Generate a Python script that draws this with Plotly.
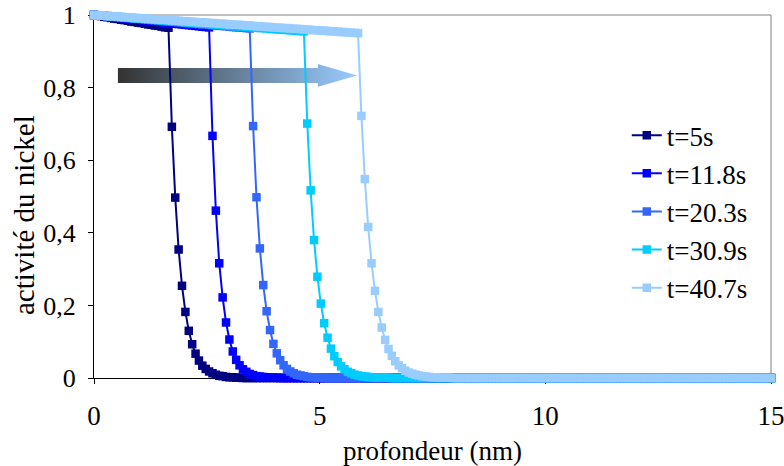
import plotly.graph_objects as go

# depth grid (nm)
depth = [
    0, 0.075, 0.15, 0.225, 0.3, 0.375, 0.45, 0.525,
    0.6, 0.675, 0.75, 0.825, 0.9, 0.975, 1.05, 1.125,
    1.2, 1.275, 1.35, 1.425, 1.5, 1.575, 1.65, 1.725,
    1.8, 1.875, 1.95, 2.025, 2.1, 2.175, 2.25, 2.325,
    2.4, 2.475, 2.55, 2.625, 2.7, 2.775, 2.85, 2.925,
    3.0, 3.075, 3.15, 3.225, 3.3, 3.375, 3.45, 3.525,
    3.6, 3.675, 3.75, 3.825, 3.9, 3.975, 4.05, 4.125,
    4.2, 4.275, 4.35, 4.425, 4.5, 4.575, 4.65, 4.725,
    4.8, 4.875, 4.95, 5.025, 5.1, 5.175, 5.25, 5.325,
    5.4, 5.475, 5.55, 5.625, 5.7, 5.775, 5.85, 5.925,
    6.0, 6.075, 6.15, 6.225, 6.3, 6.375, 6.45, 6.525,
    6.6, 6.675, 6.75, 6.825, 6.9, 6.975, 7.05, 7.125,
    7.2, 7.275, 7.35, 7.425, 7.5, 7.575, 7.65, 7.725,
    7.8, 7.875, 7.95, 8.025, 8.1, 8.175, 8.25, 8.325,
    8.4, 8.475, 8.55, 8.625, 8.7, 8.775, 8.85, 8.925,
    9.0, 9.075, 9.15, 9.225, 9.3, 9.375, 9.45, 9.525,
    9.6, 9.675, 9.75, 9.825, 9.9, 9.975, 10.05, 10.125,
    10.2, 10.275, 10.35, 10.425, 10.5, 10.575, 10.65, 10.725,
    10.8, 10.875, 10.95, 11.025, 11.1, 11.175, 11.25, 11.325,
    11.4, 11.475, 11.55, 11.625, 11.7, 11.775, 11.85, 11.925,
    12.0, 12.075, 12.15, 12.225, 12.3, 12.375, 12.45, 12.525,
    12.6, 12.675, 12.75, 12.825, 12.9, 12.975, 13.05, 13.125,
    13.2, 13.275, 13.35, 13.425, 13.5, 13.575, 13.65, 13.725,
    13.8, 13.875, 13.95, 14.025, 14.1, 14.175, 14.25, 14.325,
    14.4, 14.475, 14.55, 14.625, 14.7, 14.775, 14.85, 14.925,
    15.0,
]

act_5s = [
    1.000, 0.998, 0.997, 0.995, 0.994, 0.992, 0.990, 0.989, 0.987, 0.986,
    0.984, 0.982, 0.981, 0.979, 0.978, 0.976, 0.974, 0.973, 0.971, 0.970,
    0.968, 0.966, 0.965,
    0.692, 0.497, 0.354, 0.254, 0.182, 0.130, 0.093, 0.067, 0.048, 0.034,
    0.025, 0.018, 0.013, 0.009, 0.006, 0.005, 0.003, 0.002, 0.002, 0.001,
    0.001,
    0, 0, 0, 0, 0, 0, 0, 0, 0, 0,
    0, 0, 0, 0, 0, 0, 0, 0, 0, 0,
    0, 0, 0, 0, 0, 0, 0, 0, 0, 0,
    0, 0, 0, 0, 0, 0, 0, 0, 0, 0,
    0, 0, 0, 0, 0, 0, 0, 0, 0, 0,
    0, 0, 0, 0, 0, 0, 0, 0, 0, 0,
    0, 0, 0, 0, 0, 0, 0, 0, 0, 0,
    0, 0, 0, 0, 0, 0, 0, 0, 0, 0,
    0, 0, 0, 0, 0, 0, 0, 0, 0, 0,
    0, 0, 0, 0, 0, 0, 0, 0, 0, 0,
    0, 0, 0, 0, 0, 0, 0, 0, 0, 0,
    0, 0, 0, 0, 0, 0, 0, 0, 0, 0,
    0, 0, 0, 0, 0, 0, 0, 0, 0, 0,
    0, 0, 0, 0, 0, 0, 0, 0, 0, 0,
    0, 0, 0, 0, 0, 0, 0, 0, 0, 0,
    0, 0, 0, 0, 0, 0, 0,
]

act_11_8s = [
    1.000, 0.999, 0.998, 0.997, 0.996, 0.995, 0.994, 0.993, 0.992, 0.991,
    0.990, 0.989, 0.988, 0.987, 0.986, 0.985, 0.984, 0.983, 0.982, 0.981,
    0.980, 0.979, 0.978, 0.977, 0.976, 0.975, 0.974, 0.973, 0.972, 0.971,
    0.970, 0.969, 0.968, 0.967, 0.966,
    0.667, 0.461, 0.316, 0.222, 0.153, 0.106, 0.073, 0.050, 0.035, 0.024,
    0.017, 0.011, 0.008, 0.005, 0.004, 0.003, 0.002, 0.001, 0.001, 0.001,
    0, 0, 0, 0, 0, 0, 0, 0, 0, 0,
    0, 0, 0, 0, 0, 0, 0, 0, 0, 0,
    0, 0, 0, 0, 0, 0, 0, 0, 0, 0,
    0, 0, 0, 0, 0, 0, 0, 0, 0, 0,
    0, 0, 0, 0, 0, 0, 0, 0, 0, 0,
    0, 0, 0, 0, 0, 0, 0, 0, 0, 0,
    0, 0, 0, 0, 0, 0, 0, 0, 0, 0,
    0, 0, 0, 0, 0, 0, 0, 0, 0, 0,
    0, 0, 0, 0, 0, 0, 0, 0, 0, 0,
    0, 0, 0, 0, 0, 0, 0, 0, 0, 0,
    0, 0, 0, 0, 0, 0, 0, 0, 0, 0,
    0, 0, 0, 0, 0, 0, 0, 0, 0, 0,
    0, 0, 0, 0, 0, 0, 0, 0, 0, 0,
    0, 0, 0, 0, 0, 0, 0, 0, 0, 0,
    0, 0, 0, 0, 0, 0,
]

act_20_3s = [
    1.000, 0.999, 0.998, 0.998, 0.997, 0.996, 0.995, 0.994, 0.994, 0.993,
    0.992, 0.991, 0.990, 0.990, 0.989, 0.988, 0.987, 0.986, 0.986, 0.985,
    0.984, 0.983, 0.982, 0.982, 0.981, 0.980, 0.979, 0.978, 0.978, 0.977,
    0.976, 0.975, 0.974, 0.974, 0.973, 0.972, 0.971, 0.970, 0.970, 0.969,
    0.968, 0.967, 0.966, 0.966, 0.965, 0.964, 0.963,
    0.694, 0.498, 0.357, 0.256, 0.184, 0.132, 0.094, 0.068, 0.049, 0.035,
    0.025, 0.018, 0.013, 0.009, 0.007, 0.005, 0.003, 0.002, 0.002, 0.001,
    0.001, 0.001,
    0, 0, 0, 0, 0, 0, 0, 0, 0, 0,
    0, 0, 0, 0, 0, 0, 0, 0, 0, 0,
    0, 0, 0, 0, 0, 0, 0, 0, 0, 0,
    0, 0, 0, 0, 0, 0, 0, 0, 0, 0,
    0, 0, 0, 0, 0, 0, 0, 0, 0, 0,
    0, 0, 0, 0, 0, 0, 0, 0, 0, 0,
    0, 0, 0, 0, 0, 0, 0, 0, 0, 0,
    0, 0, 0, 0, 0, 0, 0, 0, 0, 0,
    0, 0, 0, 0, 0, 0, 0, 0, 0, 0,
    0, 0, 0, 0, 0, 0, 0, 0, 0, 0,
    0, 0, 0, 0, 0, 0, 0, 0, 0, 0,
    0, 0, 0, 0, 0, 0, 0, 0, 0, 0,
    0, 0, 0, 0, 0, 0, 0, 0, 0, 0,
    0, 0,
]

act_30_9s = [
    1.000, 0.999, 0.999, 0.998, 0.997, 0.996, 0.996, 0.995, 0.994, 0.993,
    0.993, 0.992, 0.991, 0.990, 0.990, 0.989, 0.988, 0.988, 0.987, 0.986,
    0.985, 0.985, 0.984, 0.983, 0.983, 0.982, 0.981, 0.980, 0.980, 0.979,
    0.978, 0.977, 0.977, 0.976, 0.975, 0.975, 0.974, 0.973, 0.972, 0.972,
    0.971, 0.970, 0.969, 0.969, 0.968, 0.967, 0.967, 0.966, 0.965, 0.964,
    0.964, 0.963, 0.962, 0.961, 0.961, 0.960, 0.959, 0.959, 0.958, 0.957,
    0.956, 0.956, 0.955,
    0.701, 0.517, 0.380, 0.279, 0.205, 0.151, 0.111, 0.081, 0.060, 0.044,
    0.032, 0.024, 0.017, 0.013, 0.009, 0.007, 0.005, 0.004, 0.003, 0.002,
    0.002, 0.001, 0.001, 0.001, 0.001,
    0, 0, 0, 0, 0, 0, 0, 0, 0, 0,
    0, 0, 0, 0, 0, 0, 0, 0, 0, 0,
    0, 0, 0, 0, 0, 0, 0, 0, 0, 0,
    0, 0, 0, 0, 0, 0, 0, 0, 0, 0,
    0, 0, 0, 0, 0, 0, 0, 0, 0, 0,
    0, 0, 0, 0, 0, 0, 0, 0, 0, 0,
    0, 0, 0, 0, 0, 0, 0, 0, 0, 0,
    0, 0, 0, 0, 0, 0, 0, 0, 0, 0,
    0, 0, 0, 0, 0, 0, 0, 0, 0, 0,
    0, 0, 0, 0, 0, 0, 0, 0, 0, 0,
    0, 0, 0, 0, 0, 0, 0, 0, 0, 0,
    0, 0, 0,
]

act_40_7s = [
    1.000, 0.999, 0.999, 0.998, 0.997, 0.997, 0.996, 0.996, 0.995, 0.994,
    0.994, 0.993, 0.992, 0.992, 0.991, 0.990, 0.990, 0.989, 0.988, 0.988,
    0.987, 0.987, 0.986, 0.985, 0.985, 0.984, 0.983, 0.983, 0.982, 0.981,
    0.981, 0.980, 0.980, 0.979, 0.978, 0.978, 0.977, 0.976, 0.976, 0.975,
    0.974, 0.974, 0.973, 0.973, 0.972, 0.971, 0.971, 0.970, 0.969, 0.969,
    0.968, 0.967, 0.967, 0.966, 0.965, 0.965, 0.964, 0.964, 0.963, 0.962,
    0.962, 0.961, 0.960, 0.960, 0.959, 0.958, 0.958, 0.957, 0.957, 0.956,
    0.955, 0.955, 0.954, 0.953, 0.953, 0.952, 0.951, 0.951, 0.950,
    0.722, 0.548, 0.416, 0.316, 0.240, 0.182, 0.139, 0.105, 0.080, 0.061,
    0.046, 0.035, 0.027, 0.020, 0.015, 0.012, 0.009, 0.007, 0.005, 0.004,
    0.003, 0.002, 0.002, 0.001, 0.001, 0.001, 0.001,
    0, 0, 0, 0, 0, 0, 0, 0, 0, 0,
    0, 0, 0, 0, 0, 0, 0, 0, 0, 0,
    0, 0, 0, 0, 0, 0, 0, 0, 0, 0,
    0, 0, 0, 0, 0, 0, 0, 0, 0, 0,
    0, 0, 0, 0, 0, 0, 0, 0, 0, 0,
    0, 0, 0, 0, 0, 0, 0, 0, 0, 0,
    0, 0, 0, 0, 0, 0, 0, 0, 0, 0,
    0, 0, 0, 0, 0, 0, 0, 0, 0, 0,
    0, 0, 0, 0, 0, 0, 0, 0, 0, 0,
    0, 0, 0, 0, 0,
]

series_names = ["t=5s", "t=11.8s", "t=20.3s", "t=30.9s", "t=40.7s"]
series_values = [act_5s, act_11_8s, act_20_3s, act_30_9s, act_40_7s]
series_colors = ["#000080", "#0000FF", "#3366FF", "#00CCFF", "#99CCFF"]

x_ticks = [0, 5, 10, 15]
y_ticks = [0, 0.2, 0.4, 0.6, 0.8, 1]
y_tick_labels = ["0", "0,2", "0,4", "0,6", "0,8", "1"]

x_title = "profondeur (nm)"
y_title = "activité du nickel"

# decorative gradient arrow (time direction)
arrow_x = [0.53, 4.96, 4.96, 5.83, 4.96, 4.96, 0.53, 0.53]
arrow_y = [0.854, 0.854, 0.865, 0.8335, 0.802, 0.813, 0.813, 0.854]

FONT = "Liberation Serif"
FS = 26

fig = go.Figure()

fig.add_trace(go.Scatter(
    x=arrow_x, y=arrow_y, mode="lines", fill="toself",
    line=dict(width=0, color="rgba(0,0,0,0)"),
    fillgradient=dict(type="horizontal",
                      colorscale=[[0, "#333333"], [1, "#99CCFF"]]),
    showlegend=False, hoverinfo="skip",
))

for name, vals, col in zip(series_names, series_values, series_colors):
    vals = vals[:len(depth)]
    fig.add_trace(go.Scatter(
        x=depth[:len(vals)], y=vals, name=name, mode="lines+markers",
        line=dict(color=col, width=2),
        marker=dict(symbol="square", size=8.5, color=col, line=dict(width=0)),
        cliponaxis=False, legendgroup=name,
    ))

fig.update_layout(
    width=784, height=466,
    margin=dict(l=94, r=13, t=15, b=88),
    paper_bgcolor="white", plot_bgcolor="white",
    font=dict(family=FONT, size=FS, color="black"),
    showlegend=True,
    legend=dict(x=0.787, y=0.735, xanchor="left", yanchor="top",
                bgcolor="rgba(0,0,0,0)", borderwidth=0,
                font=dict(family=FONT, size=27, color="black"),
                traceorder="grouped", tracegroupgap=0),
    shapes=[
        dict(type="line", xref="x domain", yref="y domain",
             x0=0, x1=1, y0=1, y1=1,
             line=dict(color="#808080", width=1), layer="below"),
        dict(type="line", xref="x domain", yref="y domain",
             x0=1, x1=1, y0=0, y1=1,
             line=dict(color="#808080", width=1), layer="below"),
    ],
    annotations=[
        dict(text=y_title, xref="paper", yref="paper",
             x=-0.1034, y=0.449, xanchor="center", yanchor="middle",
             textangle=-90, showarrow=False,
             font=dict(family=FONT, size=29, color="black")),
    ],
)

fig.update_xaxes(
    range=[0, 15], tickvals=x_ticks, ticks="outside", ticklen=5,
    tickcolor="black", showline=True, linecolor="black", linewidth=1,
    showgrid=False, zeroline=False, layer="below traces", automargin=False,
    ticklabelstandoff=9, ticklabeloverflow="allow",
    tickfont=dict(family=FONT, size=27, color="black"),
    title=dict(text=x_title, standoff=10,
               font=dict(family=FONT, size=27, color="black")),
)
fig.update_yaxes(
    range=[0, 1], tickvals=y_ticks, ticktext=y_tick_labels, ticks="outside",
    ticklen=5, tickcolor="black", showline=True, linecolor="black",
    linewidth=1, showgrid=False, zeroline=False, layer="below traces",
    automargin=False, ticklabelstandoff=7, ticklabeloverflow="allow",
    tickfont=dict(family=FONT, size=FS, color="black"),
)

fig.write_html(
    "out.html",
    config={"displayModeBar": False},
    post_script="document.body.style.margin='0';document.body.style.overflow='hidden';",
)
